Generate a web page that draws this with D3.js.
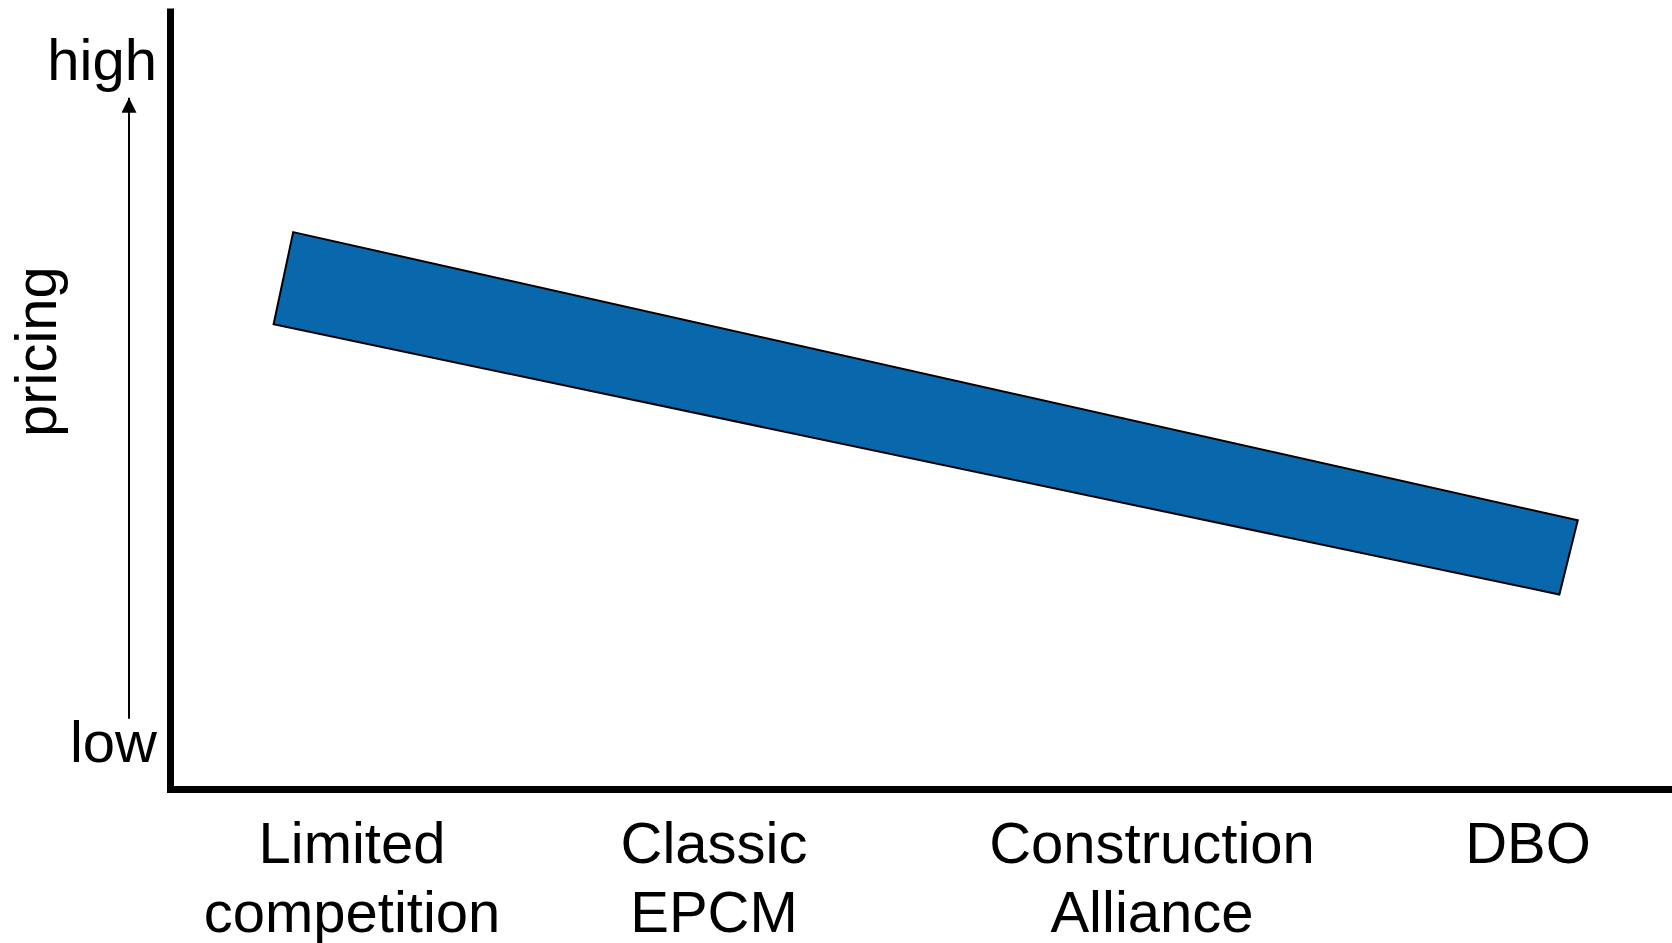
<!DOCTYPE html>
<html>
<head>
<meta charset="utf-8">
<script src="https://cdn.jsdelivr.net/npm/d3@7"></script>
<style>
  body { margin: 0; background: #fff; }
  svg { display: block; font-family: "Liberation Sans", Arial, sans-serif; }
</style>
</head>
<body>
<div id="chart"></div>
<script>
// categories along the x axis (each label split in lines)
const categories = ["Limited competition", "Classic EPCM", "Construction Alliance", "DBO"];
const categoryLines = [["Limited", "competition"], ["Classic", "EPCM"], ["Construction", "Alliance"], ["DBO"]];

// pricing band, x in category index units, y in pricing 0..100
const bandTop = [{ x: -0.15, y: 71.3 }, { x: 3.127, y: 34.4 }];
const bandBottom = [{ x: -0.20, y: 59.5 }, { x: 3.08, y: 24.9 }];

// y axis end labels
const levelLabels = ["low", "high"];
const levelValues = [3.4, 90.8];

const width = 1672;
const height = 943;
const margin = { top: 8, right: 0, bottom: 154, left: 170 };

// labels in the original are hand placed, not evenly spaced
const labelShift = [0, -30, 16, 0];

const svg = d3.select("#chart")
  .append("svg")
  .attr("width", width)
  .attr("height", height);

const xScale = d3.scaleLinear()
  .domain([0, categories.length - 1])
  .range([352, 1528]);

const yScale = d3.scaleLinear()
  .domain([0, 100])
  .range([height - margin.bottom, margin.top]);

// band polygon
const band = bandTop.concat(bandBottom.slice().reverse());
svg.append("path")
  .attr("d", d3.line().x(d => xScale(d.x)).y(d => yScale(d.y)).curve(d3.curveLinearClosed)(band))
  .attr("fill", "#0968ac")
  .attr("stroke", "#000")
  .attr("stroke-width", 2)
  .attr("stroke-linejoin", "miter");

// axes as thick lines
const yAxis = d3.axisLeft(yScale).tickValues([]).tickSizeOuter(0);
svg.append("g")
  .attr("transform", `translate(${margin.left}, 0)`)
  .call(yAxis)
  .select(".domain")
  .attr("stroke", "#000")
  .attr("stroke-width", 7);

const xAxisScale = d3.scaleLinear().range([margin.left - 3.5, width]);
svg.append("g")
  .attr("transform", `translate(0, ${yScale(0)})`)
  .call(d3.axisBottom(xAxisScale).tickValues([]).tickSizeOuter(0))
  .select(".domain")
  .attr("stroke", "#000")
  .attr("stroke-width", 7);

// arrow low -> high
const arrowX = 129;
svg.append("defs").append("marker")
  .attr("id", "head")
  .attr("viewBox", "0 0 10 10")
  .attr("refX", 10).attr("refY", 5)
  .attr("markerWidth", 7.5).attr("markerHeight", 7.5)
  .attr("markerUnits", "strokeWidth")
  .attr("orient", "auto")
  .append("path")
  .attr("d", "M0,0 L10,5 L0,10 Z")
  .attr("fill", "#000");

svg.append("line")
  .attr("x1", arrowX).attr("x2", arrowX)
  .attr("y1", yScale(9.0)).attr("y2", yScale(88.5))
  .attr("stroke", "#000")
  .attr("stroke-width", 2)
  .attr("marker-end", "url(#head)");

// low / high labels
svg.selectAll("text.level")
  .data(levelLabels)
  .join("text")
  .attr("class", "level")
  .attr("x", 157)
  .attr("y", (d, i) => yScale(levelValues[i]))
  .attr("text-anchor", "end")
  .attr("font-size", 58)
  .text(d => d);

// y title
svg.append("text")
  .attr("transform", `translate(56, ${yScale(56)}) rotate(-90)`)
  .attr("text-anchor", "middle")
  .attr("font-size", 58)
  .text("pricing");

// category labels
const catG = svg.selectAll("text.cat")
  .data(categoryLines)
  .join("text")
  .attr("class", "cat")
  .attr("text-anchor", "middle")
  .attr("font-size", 58);

catG.selectAll("tspan")
  .data((d, i) => d.map(t => ({ t, i })))
  .join("tspan")
  .attr("x", d => xScale(d.i) + labelShift[d.i])
  .attr("y", (d, j) => 863 + j * 69)
  .text(d => d.t);
</script>
</body>
</html>
